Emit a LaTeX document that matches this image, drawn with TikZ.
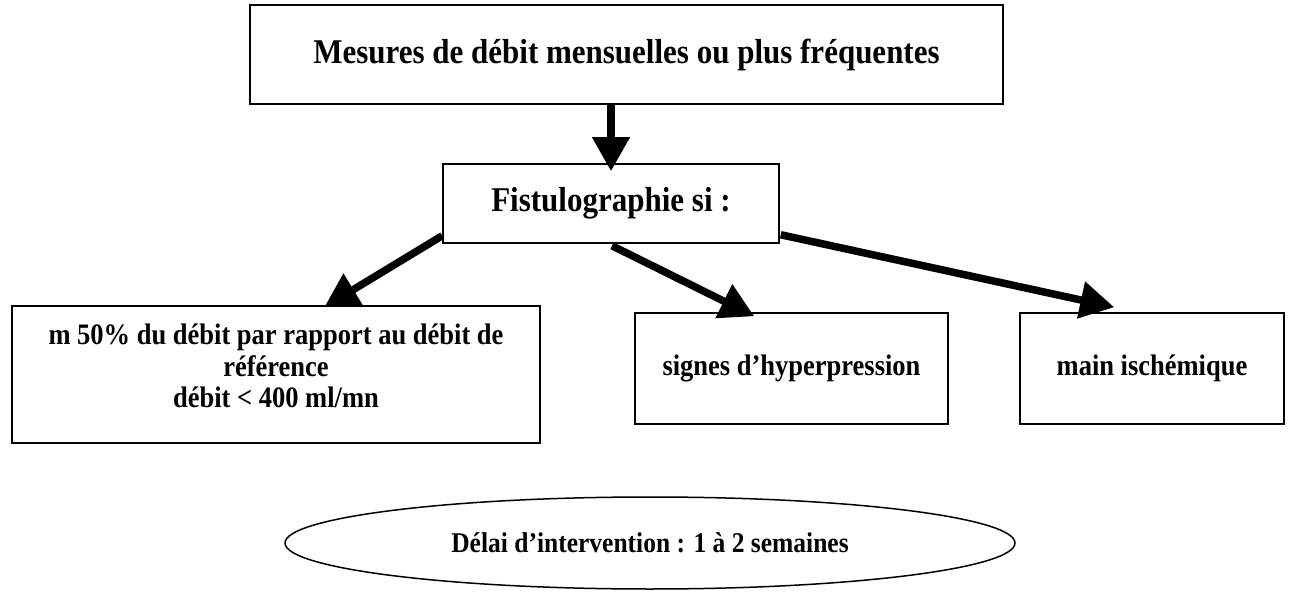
\documentclass[tikz,border=0pt]{standalone}
\usepackage{fontspec}
\setmainfont{Liberation Serif}
\usetikzlibrary{arrows.meta,shapes.geometric,calc}
\newcommand{\tallbox}[1]{\scalebox{1}[1.12]{#1}}
\begin{document}
\begin{tikzpicture}[x=1pt,y=-1pt,
  box/.style={draw,line width=1.5pt,rectangle,inner sep=0pt,align=center},
  bigtxt/.style={font=\fontsize{31}{36}\selectfont\bfseries},
  midtxt/.style={font=\fontsize{26.5}{28}\selectfont\bfseries,align=center},
  ovaltxt/.style={font=\fontsize{25.5}{30}\selectfont\bfseries},
  arr/.style={line width=7.5pt,-{Triangle[length=34pt,width=36pt]}}]
\useasboundingbox (0,0) rectangle (1290,593);
\node[box,bigtxt,minimum width=753pt,minimum height=99pt] (top) at (626.5,54.5) {\tallbox{Mesures de débit mensuelles ou plus fréquentes}};
\node[box,bigtxt,minimum width=336pt,minimum height=79pt] (fist) at (611,203.5) {\raisebox{5pt}{\tallbox{Fistulographie si :}}};
\node[box,minimum width=528pt,minimum height=137pt] (left) at (276,374.5) {};
\node[midtxt,anchor=north] (lefttxt) at ($(left.north)+(0,14)$) {\tallbox{\begin{tabular}{@{}c@{}}m 50\% du débit par rapport au débit de\\référence\\débit < 400 ml/mn\end{tabular}}};
\node[box,midtxt,minimum width=313pt,minimum height=111pt] (mid) at (791.5,368.5) {\raisebox{5pt}{\tallbox{signes d’hyperpression}}};
\node[box,midtxt,minimum width=264pt,minimum height=111pt] (right) at (1152,368.5) {\raisebox{6pt}{\tallbox{main ischémique}}};
\node[draw,line width=1.5pt,ellipse,minimum width=730pt,minimum height=92pt,inner sep=0pt,ovaltxt] (delai) at (650,543) {\tallbox{Délai d’intervention : 1 à 2 semaines}};
\coordinate (t1) at ($(left.north west)+(313,2)$);
\coordinate (t2) at ($(mid.north west)+(120,4)$);
\coordinate (t3) at ($(right.north west)+(95,-5)$);
\draw[arr] (top.south -| fist.north) -- ($(fist.north)+(0,8)$);
\draw[arr] ($(fist.south west)+(0,-8)$) -- (t1);
\draw[arr] ($(fist.south)+(1,2)$) -- (t2);
\draw[arr] ($(fist.south east)+(1,-9)$) -- (t3);
\end{tikzpicture}
\end{document}
